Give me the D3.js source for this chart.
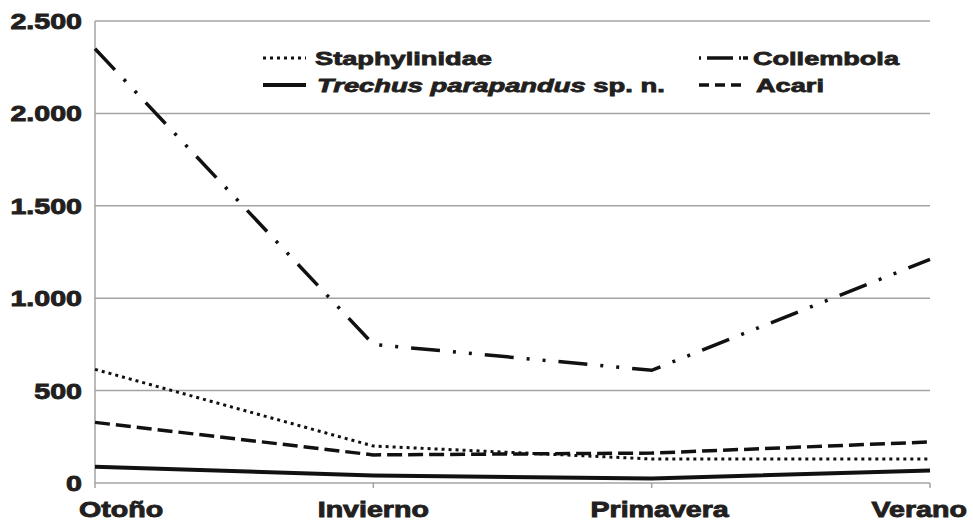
<!DOCTYPE html>
<html><head><meta charset="utf-8">
<script src="https://cdn.jsdelivr.net/npm/d3@7"></script>
<style>body{margin:0;background:#fff}svg{display:block}text{font-family:"Liberation Sans",Arial,sans-serif;font-weight:bold;fill:#231f20}</style>
</head><body><svg id="c" width="973" height="525"></svg>
<script>
const categories = ["Otoño", "Invierno", "Primavera", "Verano"];
const staphylinidae = [615, 200, 130, 130];
const collembola = [2350, 750, 610, 1210];
const trechus = [88, 40, 25, 68];
const acari = [328, 152, 162, 222];
const yTicks = [0, 500, 1000, 1500, 2000, 2500];
const yTickLabels = ["0", "500", "1.000", "1.500", "2.000", "2.500"];

const series = [
  {name: "Staphylinidae", values: staphylinidae, dash: "3,4", w: 3, legDash: "3,4"},
  {name: "Collembola", values: collembola, dash: "29,13,3,13,3,13", w: 3.5, legDash: "2,6,26,6,2"},
  {name: "Trechus", values: trechus, dash: null, w: 4, legDash: null},
  {name: "Acari", values: acari, dash: "15,6", w: 3.5, legDash: "10,6"}
];

const svg = d3.select("#c");
const SX = 1.3;
const x = d3.scalePoint().domain(categories).range([95, 930]);
const y = d3.scaleLinear().domain([0, 2500]).range([483, 21]);
const grid = "#a3a3a3";

svg.append("g").selectAll("line").data(yTicks).join("line")
  .attr("x1", 95).attr("x2", 930).attr("y1", d => y(d)).attr("y2", d => y(d))
  .attr("stroke", grid).attr("stroke-width", 1.5);
svg.append("line").attr("x1", 95).attr("x2", 95).attr("y1", y(2500)).attr("y2", y(0))
  .attr("stroke", grid).attr("stroke-width", 1.5);
svg.append("g").selectAll("line").data(categories).join("line")
  .attr("x1", d => x(d)).attr("x2", d => x(d)).attr("y1", y(0)).attr("y2", y(0) + 5)
  .attr("stroke", grid).attr("stroke-width", 1.5);

function stretched(g, px, py, anchor, size, targetW) {
  const t = g.append("text").attr("font-size", size);
  return {t, place: () => {
    const nat = t.node().getComputedTextLength();
    const sx = targetW ? targetW / nat : SX;
    const w = nat * sx;
    let x0 = px;
    if (anchor === "end") x0 = px - w;
    if (anchor === "middle") x0 = px - w / 2;
    t.attr("transform", `translate(${x0},${py}) scale(${sx},1)`);
  }};
}

yTicks.forEach((v, i) => {
  const s = stretched(svg, 82, y(v) + 8, "end", 22);
  s.t.text(yTickLabels[i]).attr("stroke", "#231f20").attr("stroke-width", 0.9);
  s.place();
});
categories.forEach((c, i) => {
  let anchor = "middle", px = x(c);
  if (i === 0) { anchor = "start"; px = 79; }
  if (i === categories.length - 1) { anchor = "end"; px = 967; }
  if (i === 2) px = x(c) + 8;
  const s = stretched(svg, px, 517, anchor, 22);
  s.t.text(c).attr("stroke", "#231f20").attr("stroke-width", 0.9);
  s.place();
});

const line = d3.line().x((d, i) => x(categories[i])).y(d => y(d));
series.forEach(s => {
  svg.append("path").datum(s.values).attr("d", line)
    .attr("fill", "none").attr("stroke", "#111").attr("stroke-width", s.w)
    .attr("stroke-dasharray", s.dash);
});

const leg = [
  {s: series[0], x1: 263, x2: 306, y: 58, tx: 315, ty: 65, w: 177},
  {s: series[2], x1: 263, x2: 306, y: 85, tx: 317, ty: 92, w: 348},
  {s: series[1], x1: 699, x2: 748, y: 58, tx: 753, ty: 65, w: 146},
  {s: series[3], x1: 699, x2: 746, y: 85, tx: 756, ty: 92, w: 68}
];
leg.forEach(l => {
  svg.append("line").attr("x1", l.x1).attr("x2", l.x2).attr("y1", l.y).attr("y2", l.y)
    .attr("stroke", "#111").attr("stroke-width", l.s.w).attr("stroke-dasharray", l.s.legDash);
  const st = stretched(svg, l.tx, l.ty, "start", 18.5, l.w);
  st.t.attr("stroke", "#231f20").attr("stroke-width", 0.8);
  if (l.s.name === "Trechus") {
    st.t.append("tspan").attr("font-style", "italic").text("Trechus parapandus");
    st.t.append("tspan").text(" sp. n.");
  } else st.t.text(l.s.name);
  st.place();
});
</script></body></html>
